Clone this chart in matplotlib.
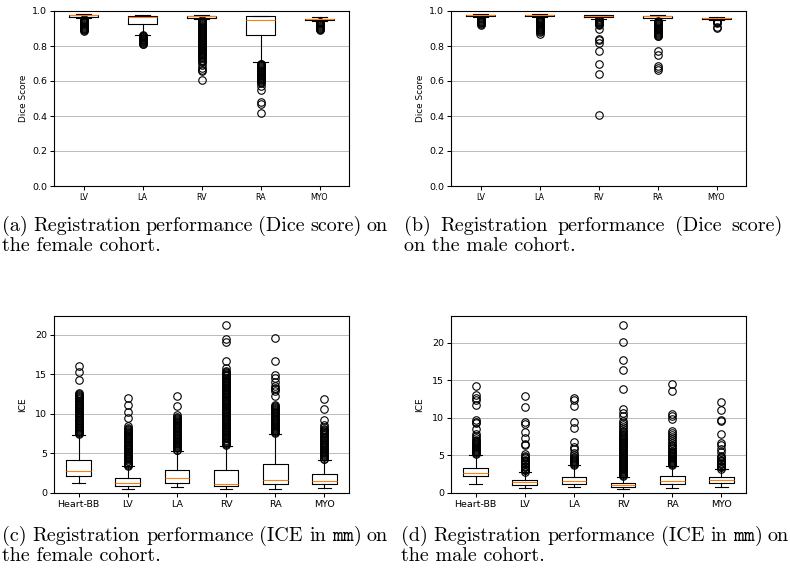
import matplotlib
matplotlib.use("Agg")
import matplotlib.pyplot as plt

plt.rcParams['mathtext.fontset'] = 'cm'

# ---------------- data ----------------
dice_names = ["LV", "LA", "RV", "RA", "MYO"]
ice_names = ["Heart-BB", "LV", "LA", "RV", "RA", "MYO"]

# Female Dice
dice_f_q1 = [0.968, 0.928, 0.962, 0.863, 0.949]
dice_f_med = [0.975, 0.966, 0.969, 0.947, 0.954]
dice_f_q3 = [0.978, 0.971, 0.974, 0.969, 0.957]
dice_f_lo = [0.962, 0.865, 0.952, 0.709, 0.943]
dice_f_hi = [0.983, 0.977, 0.978, 0.974, 0.964]
dice_f_fliers = [
    [0.955, 0.95, 0.945, 0.94, 0.935, 0.93, 0.925, 0.92, 0.915, 0.91, 0.905, 0.90, 0.895, 0.89, 0.885],
    [0.862, 0.858, 0.855, 0.85, 0.846, 0.842, 0.838, 0.834, 0.83, 0.826, 0.822, 0.818, 0.814, 0.81],
    [0.948, 0.943, 0.938, 0.932, 0.927, 0.921, 0.915, 0.91, 0.904, 0.898, 0.893, 0.887, 0.881, 0.876,
     0.87, 0.864, 0.858, 0.853, 0.847, 0.841, 0.836, 0.83, 0.824, 0.818, 0.813, 0.807, 0.801, 0.795,
     0.79, 0.784, 0.778, 0.772, 0.766, 0.76, 0.754, 0.748, 0.742, 0.736, 0.73, 0.722, 0.714, 0.706,
     0.69, 0.675, 0.665, 0.655, 0.603],
    [0.70, 0.695, 0.69, 0.685, 0.68, 0.675, 0.67, 0.665, 0.66, 0.655, 0.65, 0.645, 0.64, 0.635, 0.63,
     0.625, 0.62, 0.615, 0.61, 0.605, 0.60, 0.595, 0.59, 0.57, 0.55, 0.478, 0.466, 0.416],
    [0.94, 0.935, 0.93, 0.925, 0.92, 0.915, 0.91, 0.905, 0.90, 0.895, 0.89],
]

# Male Dice
dice_m_q1 = [0.973, 0.971, 0.966, 0.962, 0.955]
dice_m_med = [0.977, 0.977, 0.971, 0.969, 0.958]
dice_m_q3 = [0.980, 0.980, 0.975, 0.974, 0.961]
dice_m_lo = [0.965, 0.963, 0.957, 0.948, 0.948]
dice_m_hi = [0.985, 0.985, 0.979, 0.977, 0.966]
dice_m_fliers = [
    [0.96, 0.955, 0.95, 0.945, 0.94, 0.935, 0.93, 0.925, 0.92],
    [0.96, 0.955, 0.95, 0.945, 0.94, 0.935, 0.93, 0.925, 0.92, 0.915, 0.91, 0.905, 0.90, 0.895,
     0.89, 0.885, 0.88, 0.867],
    [0.953, 0.948, 0.943, 0.938, 0.933, 0.928, 0.923, 0.918, 0.90, 0.842, 0.833, 0.82, 0.772,
     0.698, 0.641, 0.403],
    [0.945, 0.94, 0.935, 0.93, 0.925, 0.92, 0.915, 0.91, 0.905, 0.90, 0.895, 0.89, 0.885, 0.88,
     0.875, 0.87, 0.865, 0.86, 0.856, 0.772, 0.747, 0.686, 0.675, 0.665],
    [0.945, 0.94, 0.935, 0.93, 0.91, 0.905],
]

# Female ICE
ice_f_q1 = [2.11, 0.89, 1.31, 0.85, 1.10, 1.18]
ice_f_med = [2.75, 1.27, 1.86, 1.14, 1.69, 1.56]
ice_f_q3 = [4.19, 1.95, 2.88, 2.88, 3.72, 2.41]
ice_f_lo = [1.27, 0.55, 0.72, 0.47, 0.55, 0.59]
ice_f_hi = [7.40, 3.42, 5.33, 6.00, 7.48, 4.19]
ice_f_fliers = [
    [7.5, 7.6, 7.7, 7.85, 8.0, 8.1, 8.25, 8.4, 8.5, 8.65, 8.8, 8.9, 9.05, 9.2, 9.3, 9.45, 9.6, 9.7,
     9.85, 10.0, 10.1, 10.25, 10.4, 10.5, 10.65, 10.8, 10.9, 11.05, 11.2, 11.3, 11.45, 11.6, 11.7,
     11.85, 12.0, 12.1, 12.25, 12.4, 12.5, 12.65, 14.3, 15.25, 16.1],
    [3.45, 3.6, 3.7, 3.85, 4.0, 4.1, 4.25, 4.4, 4.5, 4.65, 4.8, 4.9, 5.05, 5.2, 5.3, 5.45, 5.6, 5.7,
     5.85, 6.0, 6.1, 6.25, 6.4, 6.5, 6.65, 6.8, 6.9, 7.05, 7.2, 7.3, 7.45, 7.6, 7.7, 7.85, 8.0, 8.1,
     8.25, 8.45, 9.45, 10.25, 11.1, 12.0],
    [5.4, 5.5, 5.65, 5.8, 5.9, 6.05, 6.2, 6.3, 6.45, 6.6, 6.7, 6.85, 7.0, 7.1, 7.25, 7.4, 7.5, 7.65,
     7.8, 7.9, 8.05, 8.2, 8.3, 8.45, 8.6, 8.7, 8.85, 9.0, 9.1, 9.25, 9.4, 9.5, 9.65, 9.85, 11.05, 12.25],
    [6.1, 6.2, 6.35, 6.5, 6.6, 6.75, 6.9, 7.0, 7.15, 7.3, 7.4, 7.55, 7.7, 7.8, 7.95, 8.1, 8.2, 8.35,
     8.5, 8.6, 8.75, 8.9, 9.0, 9.15, 9.3, 9.4, 9.55, 9.7, 9.8, 9.95, 10.1, 10.2, 10.35, 10.5, 10.6,
     10.75, 10.9, 11.0, 11.15, 11.3, 11.4, 11.55, 11.7, 11.8, 11.95, 12.1, 12.2, 12.35, 12.5, 12.6,
     12.75, 12.9, 13.0, 13.15, 13.3, 13.4, 13.55, 13.7, 13.8, 13.95, 14.1, 14.2, 14.35, 14.5, 14.6,
     14.75, 14.9, 15.0, 15.15, 15.3, 15.5, 15.8, 16.75, 19.15, 19.45, 21.3],
    [7.55, 7.7, 7.8, 7.95, 8.1, 8.2, 8.35, 8.5, 8.6, 8.75, 8.9, 9.0, 9.15, 9.3, 9.4, 9.55, 9.7, 9.8,
     9.95, 10.1, 10.2, 10.35, 10.5, 10.6, 10.75, 10.9, 11.0, 11.2, 12.3, 12.9, 13.1, 13.3, 13.6, 14.0,
     14.5, 14.9, 16.65, 19.6],
    [4.25, 4.35, 4.5, 4.65, 4.75, 4.9, 5.05, 5.15, 5.3, 5.45, 5.55, 5.7, 5.85, 5.95, 6.1, 6.25, 6.35,
     6.5, 6.65, 6.75, 6.9, 7.05, 7.15, 7.3, 7.45, 7.55, 7.7, 7.85, 7.95, 8.1, 8.3, 8.55, 9.2, 10.6, 11.85],
]

# Male ICE
ice_m_q1 = [2.22, 1.07, 1.24, 0.84, 1.24, 1.29]
ice_m_med = [2.71, 1.42, 1.64, 1.07, 1.64, 1.69]
ice_m_q3 = [3.38, 1.78, 2.18, 1.38, 2.22, 2.09]
ice_m_lo = [1.24, 0.67, 0.76, 0.58, 0.67, 0.80]
ice_m_hi = [5.07, 2.76, 3.69, 2.18, 3.64, 3.20]
ice_m_fliers = [
    [5.15, 5.3, 5.4, 5.55, 5.7, 5.8, 5.95, 6.1, 6.2, 6.35, 6.5, 6.6, 6.75, 6.9, 7.05, 7.3, 7.55, 7.8,
     8.5, 9.3, 9.5, 9.65, 11.65, 12.4, 12.6, 13.0, 14.2],
    [2.85, 3.0, 3.1, 3.25, 3.4, 3.5, 3.65, 3.8, 3.9, 4.05, 4.2, 4.3, 4.45, 4.6, 4.75, 4.95, 5.2,
     6.4, 6.5, 7.35, 8.15, 9.2, 9.4, 11.4, 12.9],
    [3.75, 3.9, 4.0, 4.15, 4.3, 4.4, 4.55, 4.7, 4.85, 5.05, 5.3, 5.8, 6.15, 6.75, 8.65, 9.4, 11.55,
     12.35, 12.6],
    [2.25, 2.4, 2.5, 2.65, 2.8, 2.9, 3.05, 3.2, 3.3, 3.45, 3.6, 3.7, 3.85, 4.0, 4.1, 4.25, 4.4, 4.5,
     4.65, 4.8, 4.9, 5.05, 5.2, 5.3, 5.45, 5.6, 5.7, 5.85, 6.0, 6.1, 6.25, 6.4, 6.5, 6.65, 6.8, 6.9,
     7.05, 7.2, 7.3, 7.45, 7.6, 7.75, 7.9, 8.1, 8.3, 8.5, 8.75, 9.0, 9.3, 9.6, 10.3, 10.7, 11.15,
     13.85, 16.35, 17.7, 20.15, 22.35],
    [3.7, 3.85, 3.95, 4.1, 4.25, 4.35, 4.5, 4.65, 4.75, 4.9, 5.05, 5.15, 5.3, 5.45, 5.6, 5.8, 6.0,
     6.2, 6.45, 6.7, 6.95, 7.2, 7.45, 7.7, 7.95, 8.2, 9.9, 10.2, 10.45, 13.6, 14.5],
    [3.25, 3.4, 3.5, 3.65, 3.8, 3.9, 4.05, 4.2, 4.3, 4.45, 4.6, 4.75, 4.95, 5.5, 5.85, 6.4, 6.7,
     7.8, 9.6, 9.7, 11.1, 12.15],
]

captions = [
    ("(a) Registration performance (Dice score) on", "the female cohort."),
    ("(b) Registration performance (Dice score)", "on the male cohort."),
    (r"(c) Registration performance (ICE in $\mathtt{mm}$) on", "the female cohort."),
    (r"(d) Registration performance (ICE in $\mathtt{mm}$) on", "the male cohort."),
]

# ---------------- drawing ----------------
W, H = 790, 574
fig = plt.figure(figsize=(W / 100, H / 100), dpi=100)


def px_axes(l, t, r, b):
    return fig.add_axes([l / W, 1 - b / H, (r - l) / W, (b - t) / H])


def draw(ax, names, q1, med, q3, lo, hi, fliers, xfs):
    stats = [dict(label=n, q1=a, med=m, q3=c, whislo=d, whishi=e, fliers=f)
             for n, a, m, c, d, e, f in zip(names, q1, med, q3, lo, hi, fliers)]
    lw = 0.8
    ax.bxp(stats,
           boxprops=dict(color="black", linewidth=lw),
           whiskerprops=dict(color="black", linewidth=lw),
           capprops=dict(color="black", linewidth=lw),
           medianprops=dict(color="#ff7f0e", linewidth=lw),
           flierprops=dict(marker="o", markersize=5.4, markerfacecolor="none",
                           markeredgecolor="black", markeredgewidth=0.8))
    ax.yaxis.grid(True, color="#b0b0b0", linewidth=0.6)
    ax.set_axisbelow(True)
    for s in ax.spines.values():
        s.set_linewidth(0.8)
    ax.tick_params(axis="y", labelsize=6.8, width=0.75, length=3, pad=2)
    ax.tick_params(axis="x", labelsize=xfs, width=0.75, length=3, pad=2)


ax_a = px_axes(54, 11, 349, 186)
draw(ax_a, dice_names, dice_f_q1, dice_f_med, dice_f_q3, dice_f_lo, dice_f_hi, dice_f_fliers, 5.8)
ax_b = px_axes(451, 11, 746, 186)
draw(ax_b, dice_names, dice_m_q1, dice_m_med, dice_m_q3, dice_m_lo, dice_m_hi, dice_m_fliers, 5.8)
for ax in (ax_a, ax_b):
    ax.set_ylim(0, 1.0)
    ax.set_yticks([0, 0.2, 0.4, 0.6, 0.8, 1.0])
    ax.set_ylabel("Dice Score", fontsize=6.4, labelpad=3)

ax_c = px_axes(54, 316, 349, 493)
draw(ax_c, ice_names, ice_f_q1, ice_f_med, ice_f_q3, ice_f_lo, ice_f_hi, ice_f_fliers, 6.8)
ax_c.set_ylim(0, 22.4)
ax_d = px_axes(451, 316, 746, 493)
draw(ax_d, ice_names, ice_m_q1, ice_m_med, ice_m_q3, ice_m_lo, ice_m_hi, ice_m_fliers, 6.8)
ax_d.set_ylim(0, 23.55)
for ax in (ax_c, ax_d):
    ax.set_yticks([0, 5, 10, 15, 20])
    ax.set_ylabel("ICE", fontsize=6.6, labelpad=6)

# captions
cap_fs = 14.5
renderer = fig.canvas.get_renderer()


def justified(line, x0, x1, y):
    words = line.split(" ")
    texts = [fig.text(x0 / W, 1 - y / H, w, fontsize=cap_fs, family="cmr10",
                      ha="left", va="baseline") for w in words]
    widths = [t.get_window_extent(renderer).width for t in texts]
    gap = (x1 - x0 - sum(widths)) / (len(words) - 1)
    x = x0
    for t, w in zip(texts, widths):
        t.set_x(x / W)
        x += w + gap


cap_pos = [(2, 388, 231), (404, 783, 231), (2, 388, 541), (401, 789, 541)]
for (l1, l2), (x0, x1, y) in zip(captions, cap_pos):
    justified(l1, x0, x1, y)
    fig.text(x0 / W, 1 - (y + 20) / H, l2, fontsize=cap_fs, family="cmr10",
             ha="left", va="baseline")

fig.savefig("out.png", dpi=100)
